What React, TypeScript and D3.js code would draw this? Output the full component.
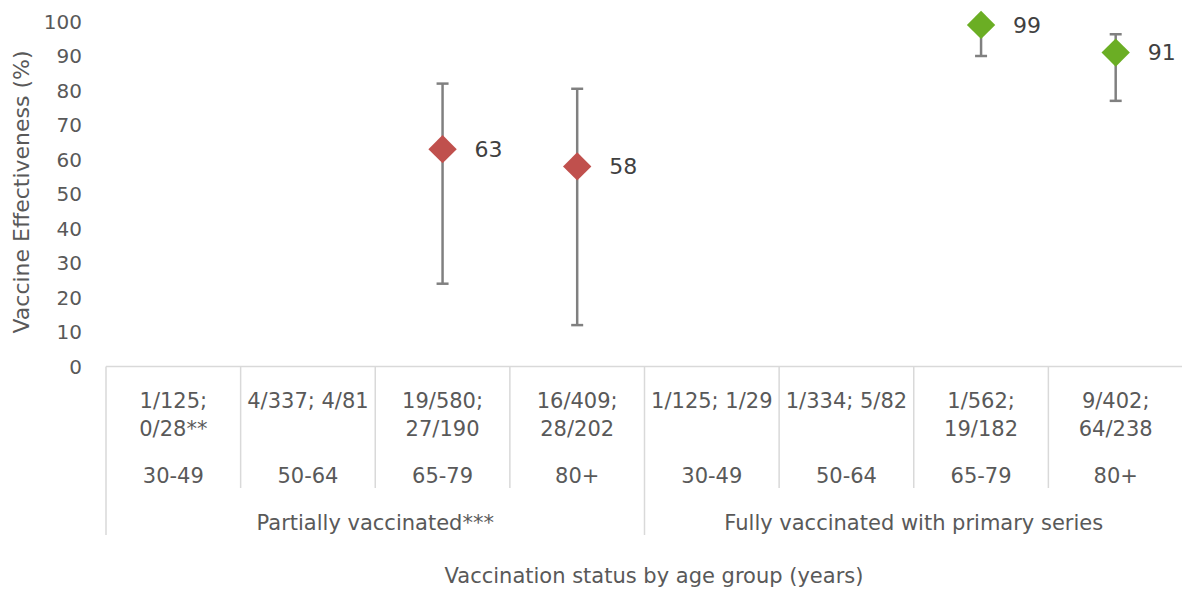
import React from "react";
import * as d3 from "d3";

const ageGroups = ["30-49", "50-64", "65-79", "80+", "30-49", "50-64", "65-79", "80+"];
const countLabels = [
  ["1/125;", "0/28**"],
  ["4/337; 4/81"],
  ["19/580;", "27/190"],
  ["16/409;", "28/202"],
  ["1/125; 1/29"],
  ["1/334; 5/82"],
  ["1/562;", "19/182"],
  ["9/402;", "64/238"],
];
const groups = ["Partially vaccinated***", "Fully vaccinated with primary series"];
const groupOf = [0, 0, 0, 0, 1, 1, 1, 1];
// vaccine effectiveness estimates (null = not estimated)
const veValues: (number | null)[] = [null, null, 63, 58, null, null, 99, 91];
const ciLower: (number | null)[] = [null, null, 24, 12, null, null, 90, 77];
const ciUpper: (number | null)[] = [null, null, 82, 80.5, null, null, 100, 96.3];
const yTicks = [0, 10, 20, 30, 40, 50, 60, 70, 80, 90, 100];
const groupColors = ["#C0504D", "#6BAE24"];

const W = 1182;
const H = 590;
const FONT = "'DejaVu Sans', Verdana, sans-serif";

export default function App() {
  const x = d3.scaleBand<number>().domain(d3.range(8)).range([106, 1183]).padding(0);
  const y = d3.scaleLinear().domain([0, 100]).range([366.5, 21.5]);
  const bw = x.bandwidth();
  const axisY = y(0);
  const diamond = d3.symbol().type(d3.symbolDiamond2).size(16 * 16 * 2)();

  const catBoundaries = d3.range(1, 8).filter((i) => groupOf[i] === groupOf[i - 1]);
  const groupBoundaries = [0, 4, 8];

  return (
    <svg width={W} height={H} style={{ position: "absolute", left: 0, top: 0, background: "#fff" }} fontFamily={FONT}>
      {/* y axis title */}
      <text
        transform={`translate(29,${(y(0) + y(100)) / 2 - 2}) rotate(-90)`}
        textAnchor="middle"
        fontSize={22}
        fill="#595959"
      >
        Vaccine Effectiveness (%)
      </text>
      {/* y ticks */}
      {yTicks.map((t) => (
        <text key={t} x={82} y={y(t)} dy="0.36em" textAnchor="end" fontSize={20} fill="#595959">
          {t}
        </text>
      ))}
      {/* axis line */}
      <line x1={106} x2={1183} y1={axisY} y2={axisY} stroke="#d9d9d9" strokeWidth={1.5} />
      {/* category dividers */}
      {catBoundaries.map((i) => (
        <line key={"c" + i} x1={x(i)!} x2={x(i)!} y1={axisY} y2={488} stroke="#d9d9d9" strokeWidth={1.5} />
      ))}
      {groupBoundaries.map((i) => {
        const xx = i < 8 ? x(i)! : 1183;
        return <line key={"g" + i} x1={xx} x2={xx} y1={axisY} y2={535} stroke="#d9d9d9" strokeWidth={1.5} />;
      })}
      {/* category labels */}
      {countLabels.map((lines, i) => (
        <g key={"l" + i}>
          {lines.map((ln, j) => (
            <text
              key={j}
              x={x(i)! + bw / 2}
              y={400 + j * 28}
              dy="0.36em"
              textAnchor="middle"
              fontSize={21}
              fill="#595959"
            >
              {ln}
            </text>
          ))}
          <text x={x(i)! + bw / 2} y={475} dy="0.36em" textAnchor="middle" fontSize={21} fill="#595959">
            {ageGroups[i]}
          </text>
        </g>
      ))}
      {groups.map((g, gi) => {
        const idx = d3.range(8).filter((i) => groupOf[i] === gi);
        const cx = (x(idx[0])! + x(idx[idx.length - 1])! + bw) / 2;
        return (
          <text key={g} x={cx} y={522} dy="0.36em" textAnchor="middle" fontSize={21} fill="#595959">
            {g}
          </text>
        );
      })}
      <text x={654} y={575} dy="0.36em" textAnchor="middle" fontSize={21} fill="#595959">
        Vaccination status by age group (years)
      </text>
      {/* error bars */}
      {veValues.map((v, i) => {
        if (v === null || ciLower[i] === null || ciUpper[i] === null) return null;
        const cx = x(i)! + bw / 2;
        const lo = y(ciLower[i] as number);
        const hi = y(ciUpper[i] as number);
        return (
          <g key={"e" + i} stroke="#808080" strokeWidth={2.5}>
            <line x1={cx} x2={cx} y1={lo} y2={hi} />
            <line x1={cx - 6} x2={cx + 6} y1={lo} y2={lo} />
            <line x1={cx - 6} x2={cx + 6} y1={hi} y2={hi} />
          </g>
        );
      })}
      {/* markers and labels */}
      {veValues.map((v, i) => {
        if (v === null) return null;
        const cx = x(i)! + bw / 2;
        const cy = y(v);
        return (
          <g key={"m" + i}>
            <path d={diamond as string} transform={`translate(${cx},${cy})`} fill={groupColors[groupOf[i]]} />
            <text x={cx + 32} y={cy} dy="0.36em" fontSize={22} fill="#404040">
              {Math.round(v)}
            </text>
          </g>
        );
      })}
    </svg>
  );
}
